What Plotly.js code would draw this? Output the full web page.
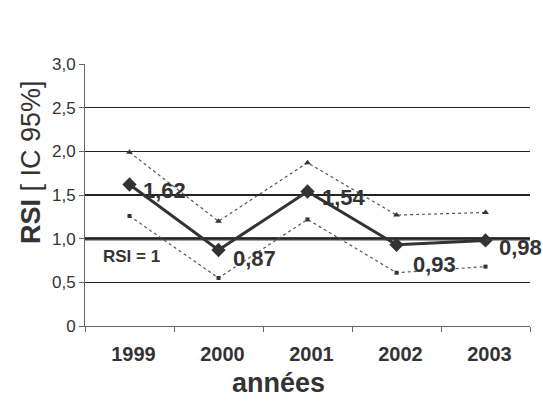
<!DOCTYPE html>
<html><head><meta charset="utf-8">
<script src="https://cdn.plot.ly/plotly-3.0.1.min.js"></script>
<style>body{margin:0;background:#fff}</style>
</head><body>
<div id="chart" style="width:543px;height:416px"></div>
<script>
const years = ["1999","2000","2001","2002","2003"];
const rsi = [1.62, 0.87, 1.54, 0.93, 0.98];
const upper = [1.99, 1.20, 1.87, 1.27, 1.30];
const lower = [1.26, 0.55, 1.22, 0.61, 0.68];
const rsiLabels = ["1,62","0,87","1,54","0,93","0,98"];
const yTickVals = [0, 0.5, 1, 1.5, 2, 2.5, 3];
const yTickText = ["0","0,5","1,0","1,5","2,0","2,5","3,0"];
const refValue = 1;

const FONT = "Liberation Sans, Arial, sans-serif";
const labelOffsets = [[35,-6],[36,-8],[36,-6],[38,-20],[35,-7]];

const traces = [
  {x: years, y: upper, mode: "lines+markers", line:{color:"#555", width:1.2, dash:"dot"},
   marker:{symbol:"triangle-up", size:6, color:"#333"}, hoverinfo:"none", cliponaxis:false},
  {x: years, y: lower, mode: "lines+markers", line:{color:"#555", width:1.2, dash:"dot"},
   marker:{symbol:"square", size:4, color:"#333"}, hoverinfo:"none", cliponaxis:false},
  {x: years, y: rsi, mode: "lines+markers", line:{color:"#333", width:3},
   marker:{symbol:"diamond", size:11, color:"#333"}, hoverinfo:"none", cliponaxis:false}
];

const annotations = years.map((yr,i)=>({
  x: i, y: rsi[i], xref:"x", yref:"y", text: "<b>"+rsiLabels[i]+"</b>", showarrow:false,
  xshift: labelOffsets[i][0], yshift: labelOffsets[i][1],
  font:{family:FONT, size:22, color:"#333"}
}));
annotations.push({x:(101-85)/445, xref:"paper", y:refValue, yref:"y", text:"<b>RSI = 1</b>", showarrow:false,
  xanchor:"left", yshift:-18, font:{family:FONT, size:17, color:"#333"}});
annotations.push({x:(31-85)/445, xref:"paper", y:(326-162)/262, yref:"paper", textangle:-90,
  text:"<b>RSI</b> [ IC 95%]", showarrow:false, xanchor:"center", yanchor:"middle",
  font:{family:FONT, size:27, color:"#333"}});
annotations.push({x:(278-85)/445, xref:"paper", y:(326-383)/262, yref:"paper",
  text:"<b>années</b>", showarrow:false, xanchor:"center", yanchor:"middle",
  font:{family:FONT, size:27, color:"#333"}});

const layout = {
  width:543, height:416, margin:{l:85, r:13, t:64, b:90},
  paper_bgcolor:"#fff", plot_bgcolor:"#fff", showlegend:false,
  separators:", ",
  font:{family:FONT, color:"#333"},
  xaxis:{type:"category", range:[-0.5,4.5], tickson:"boundaries", ticks:"outside", ticklen:5,
    tickcolor:"#666", showline:true, linecolor:"#666", linewidth:1, showgrid:false, zeroline:false,
    ticklabelshift:4, ticklabelstandoff:10,
    tickfont:{size:20, weight:"bold", color:"#333"}},
  yaxis:{range:[0,3], tickvals:yTickVals, ticktext:yTickText, ticks:"outside", ticklen:5,
    tickcolor:"#666", showline:true, linecolor:"#666", linewidth:1, showgrid:true, gridcolor:"#222",
    gridwidth:1.5, zeroline:false, tickfont:{size:17, color:"#333"}},
  shapes:[{type:"line", xref:"paper", x0:0, x1:1, yref:"y", y0:refValue, y1:refValue,
    line:{color:"#444", width:3.5}, layer:"below"}],
  annotations: annotations
};
Plotly.newPlot("chart", traces, layout, {displayModeBar:false, staticPlot:true});
</script>
</body></html>
